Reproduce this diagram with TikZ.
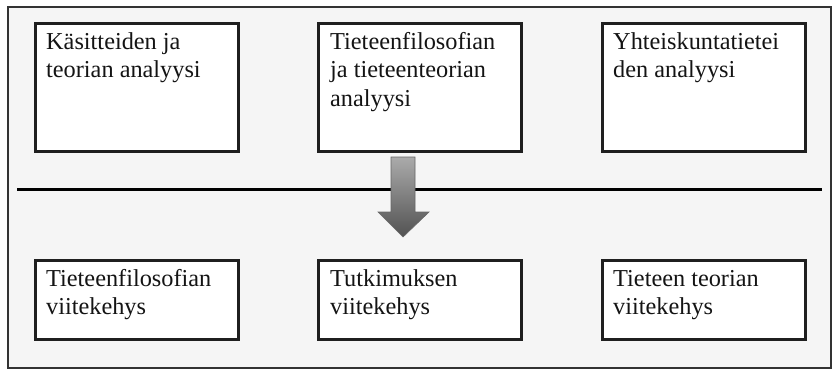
\documentclass[tikz,border=0pt]{standalone}
\usepackage{fontspec}
\setmainfont{Liberation Serif}
% top-aligned text block whose baseline is that of its first line
\newcommand{\toplines}[1]{\parbox[t]{190pt}{\raggedright #1}}
\begin{document}
\begin{tikzpicture}[x=1pt,y=-1pt,
  frame/.style={draw=black!80,line width=1.8pt,fill=black!4},
  box/.style={draw=black!88,line width=2.8pt,fill=white,inner sep=0pt,
              anchor=north west,minimum width=203pt,minimum height=#1},
  box/.default=128pt,
  txt/.style={anchor=base west,inner sep=0pt,
              font=\fontsize{24.3pt}{28pt}\selectfont,text=black!92},
  divider/.style={line width=3pt,black}
]
\useasboundingbox (0,0) rectangle (832,369);

% outer panel
\node[frame,anchor=north west,inner sep=0pt,minimum width=823pt,minimum height=361pt] (panel) at (7,6) {};

% upper row of boxes
\node[box] (u1) at (34,22) {};
\node[box] (u2) at (317,22) {};
\node[box] (u3) at (601,22) {};
\node[txt] (tu1) at (46,50) {\toplines{Käsitteiden ja\\teorian analyysi}};
\node[txt] (tu2) at (330,50) {\toplines{Tieteenfilosofian\\ja tieteenteorian\\analyysi}};
\node[txt] (tu3) at (613,50) {\toplines{Yhteiskuntatietei\\den analyysi}};

% dividing rule
\coordinate (dl) at (17,189);
\coordinate (dr) at (822,189);
\draw[divider] (dl) -- (dr);

% downward block arrow
\path[draw=black!60,line width=0.6pt,top color=black!33,bottom color=black!68]
  (391,157) -- (415,157) -- (415,212) -- (429,212) -- (403,237)
  -- (378,212) -- (391,212) -- cycle;

% lower row of boxes
\node[box=79pt] (l1) at (34,259) {};
\node[box=79pt] (l2) at (317,259) {};
\node[box=79pt] (l3) at (601,259) {};
\node[txt] (tl1) at (46,286) {\toplines{Tieteenfilosofian\\viitekehys}};
\node[txt] (tl2) at (330,286) {\toplines{Tutkimuksen\\viitekehys}};
\node[txt] (tl3) at (613,286) {\toplines{Tieteen teorian\\viitekehys}};
\end{tikzpicture}
\end{document}
